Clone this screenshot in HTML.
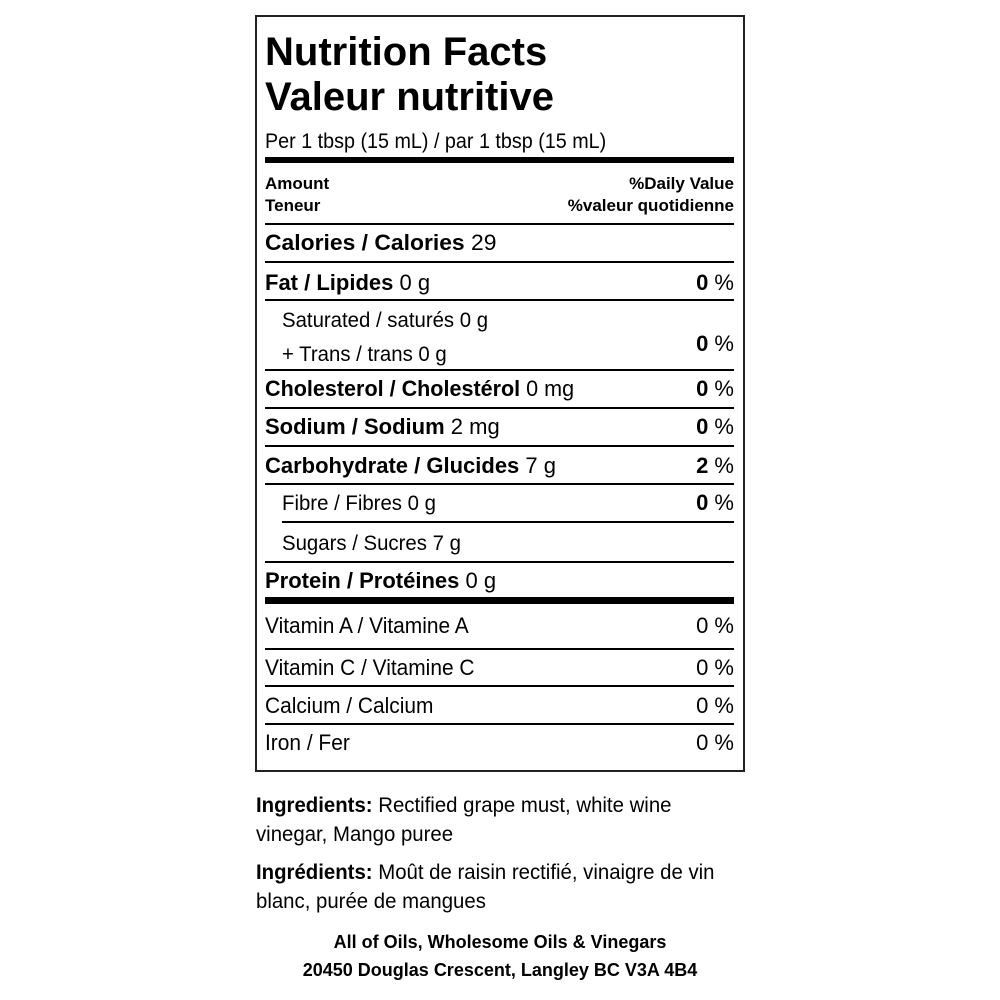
<!DOCTYPE html>
<html><head><meta charset="utf-8"><style>
html,body{margin:0;padding:0;background:#fff;}
body{width:1000px;height:1000px;position:relative;overflow:hidden;font-family:"Liberation Sans",Arial,sans-serif;color:#000;}
.box{position:absolute;left:255px;top:15px;width:486px;height:753px;border:2px solid #222;}
.t{position:absolute;white-space:nowrap;line-height:1;transform-origin:left center;}
.r{position:absolute;white-space:nowrap;line-height:1;right:266px;transform-origin:right center;}
.b{font-weight:bold;}
.h{position:absolute;left:265px;width:469px;background:#000;}
.row{font-size:22px;}
.row b{display:inline-block;transform-origin:left center;}
</style></head><body>
<div class="box"></div>
<div class="t b" style="left:265px;top:32px;font-size:40px;">Nutrition Facts</div>
<div class="t b" style="left:265px;top:77px;font-size:40px;">Valeur nutritive</div>
<div class="t" style="left:265px;top:131px;font-size:21px;transform:scaleX(0.94)">Per 1 tbsp (15 mL) / par 1 tbsp (15 mL)</div>
<div class="h" style="top:157px;height:6px"></div>
<div class="t b" style="left:265px;top:175px;font-size:17px;">Amount</div>
<div class="t b" style="left:265px;top:197px;font-size:17px;">Teneur</div>
<div class="r b" style="top:175px;font-size:17px;">%Daily Value</div>
<div class="r b" style="top:197px;font-size:17px;">%valeur quotidienne</div>
<div class="h" style="top:223px;height:2px"></div>
<div class="t row" style="left:265px;top:232px;transform:scaleX(1.04)"><b>Calories / Calories</b> 29</div>
<div class="h" style="top:261px;height:2px"></div>
<div class="t row" style="left:265px;top:272px;"><b>Fat / Lipides</b> 0 g</div>
<div class="r row" style="top:272px;"><b>0</b> %</div>
<div class="h" style="top:299px;height:2px"></div>
<div class="t" style="left:282px;top:310px;font-size:21px;transform:scaleX(0.97)">Saturated / saturés 0 g</div>
<div class="t" style="left:282px;top:344px;font-size:21px;transform:scaleX(0.97)">+ Trans / trans 0 g</div>
<div class="r row" style="top:333px;"><b>0</b> %</div>
<div class="h" style="top:369px;height:2px"></div>
<div class="t row" style="left:265px;top:378px;transform:scaleX(0.98)"><b>Cholesterol / Cholestérol</b> 0 mg</div>
<div class="r row" style="top:378px;"><b>0</b> %</div>
<div class="h" style="top:407px;height:2px"></div>
<div class="t row" style="left:265px;top:416px;transform:scaleX(1.0)"><b>Sodium / Sodium</b> 2 mg</div>
<div class="r row" style="top:416px;"><b>0</b> %</div>
<div class="h" style="top:445px;height:2px"></div>
<div class="t row" style="left:265px;top:455px;transform:scaleX(1.0)"><b>Carbohydrate / Glucides</b> 7 g</div>
<div class="r row" style="top:455px;"><b>2</b> %</div>
<div class="h" style="top:483px;height:2px"></div>
<div class="t" style="left:282px;top:493px;font-size:21px;transform:scaleX(0.97)">Fibre / Fibres 0 g</div>
<div class="r row" style="top:492px;"><b>0</b> %</div>
<div class="h" style="left:282px;width:452px;top:521px;height:2px"></div>
<div class="t" style="left:282px;top:533px;font-size:21px;transform:scaleX(0.97)">Sugars / Sucres 7 g</div>
<div class="h" style="top:561px;height:2px"></div>
<div class="t row" style="left:265px;top:570px;transform:scaleX(1.0)"><b>Protein / Protéines</b> 0 g</div>
<div class="h" style="top:597px;height:7px"></div>
<div class="t" style="left:265px;top:615px;font-size:22px;transform:scaleX(0.95)">Vitamin A / Vitamine A</div>
<div class="r" style="top:615px;font-size:22px;">0 %</div>
<div class="h" style="top:648px;height:2px"></div>
<div class="t" style="left:265px;top:657px;font-size:22px;transform:scaleX(0.95)">Vitamin C / Vitamine C</div>
<div class="r" style="top:657px;font-size:22px;">0 %</div>
<div class="h" style="top:685px;height:2px"></div>
<div class="t" style="left:265px;top:695px;font-size:22px;transform:scaleX(0.95)">Calcium / Calcium</div>
<div class="r" style="top:695px;font-size:22px;">0 %</div>
<div class="h" style="top:723px;height:2px"></div>
<div class="t" style="left:265px;top:732px;font-size:22px;transform:scaleX(0.95)">Iron / Fer</div>
<div class="r" style="top:732px;font-size:22px;">0 %</div>

<div class="t" style="left:256px;top:795px;font-size:21px;transform:scaleX(0.97)"><b>Ingredients:</b> Rectified grape must, white wine</div>
<div class="t" style="left:256px;top:824px;font-size:21px;transform:scaleX(0.97)">vinegar, Mango puree</div>
<div class="t" style="left:256px;top:862px;font-size:21px;transform:scaleX(0.97)"><b>Ingrédients:</b> Moût de raisin rectifié, vinaigre de vin</div>
<div class="t" style="left:256px;top:891px;font-size:21px;transform:scaleX(0.97)">blanc, purée de mangues</div>
<div class="t b" style="left:0;width:1000px;text-align:center;top:933px;font-size:18px;">All of Oils, Wholesome Oils &amp; Vinegars</div>
<div class="t b" style="left:0;width:1000px;text-align:center;top:961px;font-size:18px;">20450 Douglas Crescent, Langley BC V3A 4B4</div>
</body></html>
